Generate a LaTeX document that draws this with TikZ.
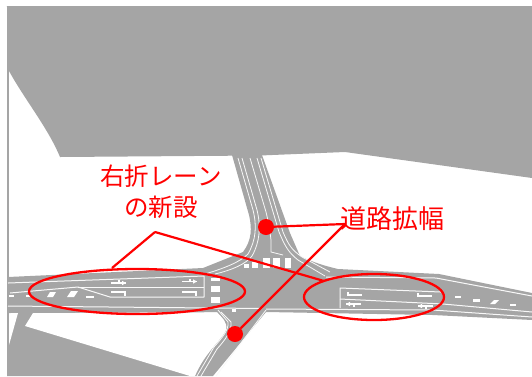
\documentclass[tikz,border=0pt]{standalone}
\usepackage{fontspec}
\newfontfamily\cjkfont{Noto Sans CJK JP}
\definecolor{roadgray}{RGB}{165,165,165}
\definecolor{redmark}{RGB}{255,0,0}
\tikzset{
  road/.style={fill=roadgray,draw=none},
  voidarea/.style={fill=white,draw=none},
  laneline/.style={draw=white!92!roadgray,line width=1pt,line join=round},
  thinline/.style={draw=white!92!roadgray,line width=.8pt},
  paint/.style={fill=white,draw=none},
  redring/.style={draw=redmark,line width=2.3pt,fill=none},
  redlink/.style={draw=redmark,line width=2.2pt},
  reddot/.style={circle,fill=redmark,draw=none,minimum size=16pt,inner sep=0pt},
  redlabel/.style={text=redmark,font=\cjkfont\fontsize{24.5}{31}\selectfont,align=center,inner sep=0pt},
}
\newcommand{\arrowstraight}[2]{%
  \fill[white] (#1,#2-.8) rectangle (#1+15,#2+.8);
  \fill[white] (#1+15,#2) -- (#1+11,#2-2.2) -- (#1+11,#2+2.2) -- cycle;
  \fill[white] (#1+7,#2-3) rectangle (#1+8.5,#2);}
\newcommand{\arrowturn}[2]{%
  \fill[white] (#1,#2-.8) rectangle (#1+14,#2+.8);
  \fill[white] (#1+13,#2-.8) rectangle (#1+14.5,#2+3.5);}
\newcommand{\arrowturnR}[2]{%
  \fill[white] (#1,#2-.8) rectangle (#1+15,#2+.8);
  \fill[white] (#1,#2-3.5) rectangle (#1+1.5,#2+.8);}
\newcommand{\arrowmixR}[2]{%
  \fill[white] (#1,#2-.8) rectangle (#1+15,#2+.8);
  \fill[white] (#1,#2) -- (#1+4,#2-2.2) -- (#1+4,#2+2.2) -- cycle;
  \fill[white] (#1+7,#2) rectangle (#1+8.5,#2+3);}
\begin{document}
\begin{tikzpicture}[x=1pt,y=-1pt]
\useasboundingbox (0,0) rectangle (532,376);
% north mass
\path[road] (6,6) -- (532,6) -- (532,178) -- (345,152) -- (260,155.5) -- (60,157)
  .. controls (48,128) and (25,100) .. (9,71) -- (9,6) -- cycle;
\fill[roadgray] (6.5,6) rectangle (9,362);
% lower left mass
\path[road] (7,305) -- (266,305) -- (266,312) -- (213,376) -- (7,376) -- cycle;
\path[voidarea] (33,313) -- (216,311) .. controls (222,318) and (228,322) .. (226,330)
  .. controls (222,340) and (205,352) .. (195,376) -- (190,376) -- (25,326) -- cycle;
\path[voidarea] (9,313) -- (18,313) -- (9,345) -- cycle;
% main road and north arm
\path[road] (8,277) -- (203,268) -- (243,252)
  .. controls (252,240) and (252,228) .. (249,215) -- (232,155) -- (262,155) -- (290,233)
  -- (300,256) .. controls (312,262) and (325,266) .. (338,269)
  -- (439,274) -- (532,293) -- (532,320) -- (433,315) -- (266,312) -- (8,313) -- cycle;
% north lanes
\draw[thinline] (238,158) -- (253,210) .. controls (257,226) and (256,240) .. (248,254) .. controls (240,262) and (225,268) .. (205,274);
\draw[thinline] (242,158) -- (257,210) .. controls (261,226) and (260,242) .. (252,256) .. controls (246,264) and (232,270) .. (215,274);
\draw[thinline] (250,158) -- (266,212) .. controls (269,224) and (270,232) .. (271,240) -- (271,252) -- (283,255);
\draw[thinline] (257,158) -- (279,232) .. controls (285,246) and (288,252) .. (298,260) -- (325,276);
\draw[thinline] (261,158) -- (283,232) .. controls (289,246) and (292,250) .. (302,257) -- (330,272);
% crosswalk
\fill[white] (252,262) rectangle (258,268);
\fill[white] (263,258) rectangle (270,268);
\fill[white] (273,258) rectangle (280,268);
\fill[white] (285,258) rectangle (291,268);
\fill[white] (244,264) rectangle (249,268);
% west lanes
\draw[laneline] (8,283) -- (204,276) -- (204,297) -- (110,297) -- (78,287) -- (10,293);
\draw[laneline] (78,287) -- (204,287);
\draw[laneline] (8,306) -- (262,308.5);
\fill[white] (211,278) rectangle (220,281);
\fill[white] (211,286) rectangle (220,292);
\fill[white] (211,297) rectangle (220,303);
\arrowstraight{111}{283}
\arrowstraight{182}{281.5}
\arrowturn{111}{292}
\arrowturn{182}{292}
% hatch marks
\fill[white] (9,295) rectangle (14,297);
\fill[white] (26,295) rectangle (32,297);
\fill[white] (47,297) -- (50,292) -- (56,292) -- (53,297) -- cycle;
\fill[white] (67,297) -- (71,291) -- (78,291) -- (74,297) -- cycle;
\fill[white] (86,296) rectangle (94,298);
% south arm
\draw[thinline] (218,310) -- (228,322) .. controls (229,330) and (222,338) .. (214,347) -- (197,376);
\draw[thinline] (221,312) -- (231,322) .. controls (232,331) and (225,340) .. (217,349) -- (201,376);
\draw[thinline] (266,310) -- (216,376);
\fill[white] (232,309) rectangle (236,312);
% east lanes
\draw[laneline] (326,277) -- (436,278) -- (532,296);
\draw[laneline] (340,308) -- (340,288) -- (441,292);
\draw[laneline] (340,299) -- (443,304) -- (532,312);
\draw[laneline] (266,309) -- (433,310) -- (532,317);
\arrowturnR{347}{295}
\arrowturnR{417}{296}
\arrowmixR{346}{304}
\arrowmixR{418}{306}
\fill[white] (455,296) rectangle (461,298);
\fill[white] (473,299) rectangle (480,302);
\fill[white] (490,304) -- (494,300) -- (499,300) -- (495,304) -- cycle;
\fill[white] (510,304) rectangle (516,306);
% red annotations
\draw[redring] (137,291.5) ellipse [x radius=108,y radius=22.5];
\draw[redring] (374,297) ellipse [x radius=70,y radius=23];
\coordinate (hubw) at (155,232);
\coordinate (endA) at (112,268);
\coordinate (endB) at (324,281);
\coordinate (hube) at (345,224);
\node[reddot] (dotn) at (266,227) {};
\node[reddot] (dots) at (235,334) {};
\draw[redlink] (hubw) -- (endA);
\draw[redlink] (hubw) -- (endB);
\draw[redlink] (dotn) -- (hube);
\draw[redlink] (dots) -- (hube);
\node[redlabel] (lblw) at (161,192) {右折レーン\\の新設};
\node[redlabel,font=\cjkfont\fontsize{26}{30}\selectfont] (lble) at (392,219) {道路拡幅};
\end{tikzpicture}
\end{document}
